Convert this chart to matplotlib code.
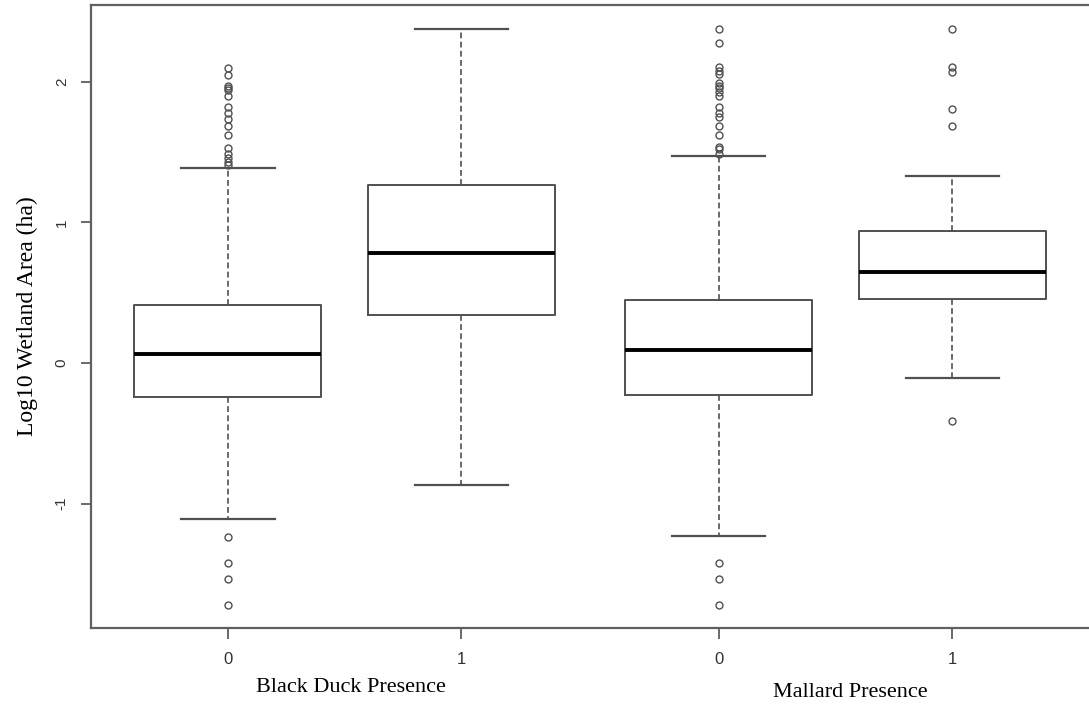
import matplotlib.pyplot as plt

# Box summaries (log10 wetland area, ha)
groups = ["0", "1", "0", "1"]
positions = [1, 2, 3.1, 4.1]
medians = [0.064, 0.78, 0.093, 0.65]
q1 = [-0.24, 0.34, -0.23, 0.455]
q3 = [0.41, 1.27, 0.45, 0.94]
whisker_lo = [-1.11, -0.87, -1.23, -0.11]
whisker_hi = [1.39, 2.38, 1.47, 1.33]
outliers = [
    [2.10, 2.05, 1.97, 1.955, 1.94, 1.90, 1.82, 1.78, 1.74, 1.69, 1.62,
     1.53, 1.49, 1.46, 1.43, 1.41, -1.24, -1.42, -1.54, -1.72],
    [],
    [2.38, 2.28, 2.11, 2.08, 2.06, 1.99, 1.97, 1.955, 1.93, 1.90, 1.82,
     1.78, 1.75, 1.69, 1.62, 1.54, 1.52, 1.485, -1.42, -1.54, -1.72],
    [2.38, 2.11, 2.07, 1.81, 1.69, -0.41],
]
yticks = [-1, 0, 1, 2]

stats = []
for i in range(len(groups)):
    stats.append(dict(med=medians[i], q1=q1[i], q3=q3[i],
                      whislo=whisker_lo[i], whishi=whisker_hi[i],
                      fliers=outliers[i], label=groups[i]))

edge = "#505050"
fig = plt.figure(figsize=(10.89, 7.10), dpi=100)
ax = fig.add_axes([0.0836, 0.1155, 0.9164, 0.8775])

ax.bxp(stats, positions=positions, widths=0.8, capwidths=0.4,
       boxprops=dict(color=edge, linewidth=1.4),
       medianprops=dict(color="black", linewidth=2.8),
       whiskerprops=dict(color=edge, linewidth=1.2, linestyle=(0, (3.5, 2))),
       capprops=dict(color=edge, linewidth=1.6),
       flierprops=dict(marker="o", markersize=5, markerfacecolor="none",
                       markeredgecolor=edge, markeredgewidth=1.0))

ax.set_xlim(0.415, 4.685)
ax.set_ylim(-1.886, 2.548)
ax.set_yticks(yticks)
ax.set_yticklabels([str(v) for v in yticks], rotation=90, va="center",
                   family="Liberation Sans", fontsize=11, color="#333333")
ax.set_xticks(positions)
ax.set_xticklabels(groups, family="Liberation Sans", fontsize=12, color="#333333")
ax.tick_params(axis="y", length=7, width=1.2, color=edge, pad=9)
ax.tick_params(axis="x", length=8, width=1.2, color=edge, pad=9)

for side in ["left", "top", "bottom"]:
    ax.spines[side].set_color("#606060")
    ax.spines[side].set_linewidth(1.6)
ax.spines["right"].set_visible(False)

ax.set_ylabel("Log10 Wetland Area (ha)", family="Liberation Serif",
              fontsize=17, labelpad=12)
fig.text(0.322, 0.031, "Black Duck Presence", family="Liberation Serif",
         fontsize=16, ha="center", va="center")
fig.text(0.781, 0.025, "Mallard Presence", family="Liberation Serif",
         fontsize=16, ha="center", va="center")

fig.savefig("out.png", dpi=100)
